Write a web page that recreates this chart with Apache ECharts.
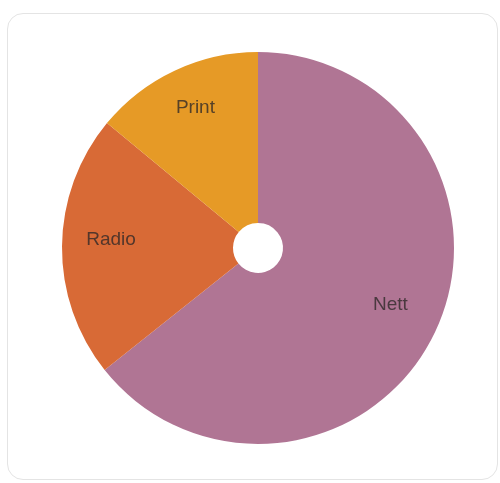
<!DOCTYPE html>
<html>
<head>
<meta charset="utf-8">
<script src="https://cdn.jsdelivr.net/npm/echarts@6/dist/echarts.min.js"></script>
<style>
  html, body { margin: 0; padding: 0; background: #fff; }
  #card {
    position: absolute; left: 7px; top: 13px; width: 489px; height: 465px;
    border: 1px solid #e4e4e4; border-radius: 16px; background: #fff;
  }
  #chart { position: absolute; left: 0; top: 0; width: 500px; height: 483px; }
</style>
</head>
<body>
<div id="card"></div>
<div id="chart"></div>
<script>
var categories = ['Nett', 'Radio', 'Print'];
var values = [64.3, 21.7, 14];
var colors = ['#b07594', '#d86a36', '#e69a26'];

var pieData = categories.map(function (name, i) {
  return { name: name, value: values[i], itemStyle: { color: colors[i] } };
});

var chart = echarts.init(document.getElementById('chart'));
chart.setOption({
  animation: false,
  series: [
    {
      type: 'pie',
      center: [258, 248],
      radius: [25, 196],
      startAngle: 90,
      clockwise: true,
      label: { show: false },
      labelLine: { show: false },
      itemStyle: { borderWidth: 0 },
      data: pieData
    },
    {
      // transparent ring only used to place the labels
      type: 'pie',
      center: [258, 248],
      radius: [94, 194],
      startAngle: 90,
      clockwise: true,
      silent: true,
      itemStyle: { color: 'rgba(0,0,0,0)', borderWidth: 0 },
      label: {
        show: true,
        position: 'inside',
        offset: [0, -7],
        color: 'rgba(45,40,40,0.78)',
        fontFamily: 'Liberation Sans, Arial, sans-serif',
        fontSize: 19
      },
      labelLine: { show: false },
      data: categories.map(function (name, i) {
        return { name: name, value: values[i] };
      })
    }
  ]
});
</script>
</body>
</html>
